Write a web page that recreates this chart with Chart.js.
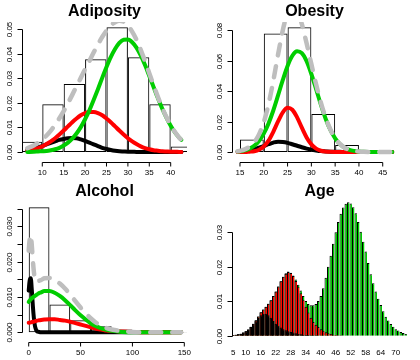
<!DOCTYPE html>
<html>
<head>
<meta charset="utf-8">
<title>Mixture fits</title>
<script src="https://cdn.jsdelivr.net/npm/chart.js@4.4.0/dist/chart.umd.min.js"></script>
<style>
    html, body { margin: 0; padding: 0; background: #fff; }
    #grid { position: relative; width: 420px; height: 360px; }
    #grid canvas { position: absolute; }
</style>
</head>
<body>
<div id="grid">
    <canvas id="adiposity" width="210" height="180" style="left:0;top:0"></canvas>
    <canvas id="obesity" width="210" height="180" style="left:210px;top:0"></canvas>
    <canvas id="alcohol" width="210" height="180" style="left:0;top:180px"></canvas>
    <canvas id="age" width="210" height="180" style="left:210px;top:180px"></canvas>
</div>
<script>
// Adiposity
const adipBins = [7.5, 12.5, 17.5, 22.5, 27.5, 32.5, 37.5, 42.5];
const adipDensity = [0.0042, 0.0194, 0.0276, 0.0377, 0.0507, 0.0385, 0.0194, 0.0022];
const adipX = [6.5, 8, 9, 10, 11, 12, 13, 14, 15, 16, 17, 18, 19, 20, 21, 22, 23, 24, 25, 26, 27, 28, 29, 30, 31, 32, 33, 34, 35, 36, 37, 38, 39, 40, 41, 42, 42.5];
const adipBlack = [0.0009, 0.0014, 0.0019, 0.0024, 0.0031, 0.0037, 0.0043, 0.0049, 0.0053, 0.0056, 0.0057, 0.0056, 0.0051, 0.0045, 0.0038, 0.0031, 0.0024, 0.0017, 0.0012, 0.0008, 0.0005, 0.0003, 0.0002, 0.0001, 0.0001, 0, 0, 0, 0, 0, 0, 0, 0, 0, 0, 0, 0];
const adipRed = [0.0006, 0.0011, 0.0016, 0.0023, 0.0032, 0.0043, 0.0056, 0.0071, 0.0087, 0.0104, 0.0121, 0.0136, 0.0149, 0.0158, 0.0162, 0.0162, 0.0158, 0.0149, 0.0136, 0.0121, 0.0104, 0.0087, 0.0071, 0.0056, 0.0043, 0.0032, 0.0023, 0.0016, 0.0011, 0.0007, 0.0005, 0.0003, 0.0002, 0.0001, 0.0001, 0, 0];
const adipGreen = [0, 0.0001, 0.0002, 0.0003, 0.0004, 0.0007, 0.0011, 0.0017, 0.0026, 0.0038, 0.0054, 0.0075, 0.0101, 0.0133, 0.0169, 0.0211, 0.0255, 0.0301, 0.0345, 0.0385, 0.0418, 0.0443, 0.0456, 0.0457, 0.0446, 0.0424, 0.0392, 0.0353, 0.0309, 0.0264, 0.0219, 0.0177, 0.0140, 0.0107, 0.0080, 0.0058, 0.0049];
const adipTotal = [0.0015, 0.0026, 0.0037, 0.0050, 0.0067, 0.0087, 0.0110, 0.0137, 0.0166, 0.0198, 0.0232, 0.0267, 0.0301, 0.0336, 0.0369, 0.0404, 0.0437, 0.0467, 0.0493, 0.0514, 0.0527, 0.0533, 0.0529, 0.0514, 0.0489, 0.0456, 0.0415, 0.0369, 0.0320, 0.0271, 0.0224, 0.0180, 0.0142, 0.0108, 0.0081, 0.0058, 0.0049];
const adipXTicks = [10, 15, 20, 25, 30, 35, 40];
const adipYTicks = [0, 0.01, 0.02, 0.03, 0.04, 0.05];
const adipYLabels = ['0.00', '0.01', '0.02', '0.03', '0.04', '0.05'];

// Obesity
const obesBins = [17.5, 22.5, 27.5, 32.5, 37.5, 42.5];
const obesDensity = [0.0083, 0.0780, 0.0820, 0.0250, 0.0046, 0.0004];
const obesX = [14.5, 15, 16, 17, 18, 19, 20, 21, 22, 23, 24, 25, 26, 27, 28, 29, 30, 31, 32, 33, 34, 35, 36, 37, 38, 39, 40, 41, 42, 43, 44, 45, 46, 47];
const obesBlack = [0.0002, 0.0003, 0.0006, 0.0011, 0.0018, 0.0028, 0.0039, 0.0051, 0.0062, 0.0068, 0.0066, 0.0060, 0.0051, 0.0041, 0.0031, 0.0022, 0.0015, 0.0010, 0.0006, 0.0004, 0.0002, 0.0001, 0.0001, 0, 0, 0, 0, 0, 0, 0, 0, 0, 0, 0];
const obesRed = [0, 0, 0, 0.0002, 0.0005, 0.0015, 0.0036, 0.0075, 0.0133, 0.0201, 0.0261, 0.0291, 0.0278, 0.0228, 0.0160, 0.0096, 0.0050, 0.0022, 0.0008, 0.0003, 0.0001, 0, 0, 0, 0, 0, 0, 0, 0, 0, 0, 0, 0, 0];
const obesGreen = [0.0003, 0.0005, 0.0011, 0.0022, 0.0041, 0.0073, 0.0121, 0.0188, 0.0273, 0.0372, 0.0474, 0.0566, 0.0633, 0.0663, 0.0650, 0.0597, 0.0513, 0.0413, 0.0311, 0.0219, 0.0145, 0.0090, 0.0052, 0.0028, 0.0014, 0.0007, 0.0003, 0.0001, 0, 0, 0, 0, 0, 0];
const obesTotal = [0.0005, 0.0008, 0.0017, 0.0035, 0.0064, 0.0116, 0.0196, 0.0314, 0.0468, 0.0641, 0.0801, 0.0917, 0.0962, 0.0932, 0.0841, 0.0715, 0.0578, 0.0445, 0.0325, 0.0226, 0.0148, 0.0091, 0.0053, 0.0028, 0.0014, 0.0007, 0.0003, 0.0001, 0, 0, 0, 0, 0, 0];
const obesXTicks = [15, 20, 25, 30, 35, 40, 45];
const obesYTicks = [0, 0.02, 0.04, 0.06, 0.08];
const obesYLabels = ['0.00', '0.02', '0.04', '0.06', '0.08'];

// Alcohol
const alcBins = [10, 30, 50, 70, 90, 110, 130, 150];
const alcDensity = [0.0354, 0.0079, 0.0034, 0.0017, 0.0008, 0.0003, 0.0001, 0.0001];
const alcX = [0, 1, 2, 3, 4, 5, 6, 7, 8, 10, 12, 15, 20, 25, 30, 35, 40, 45, 50, 55, 60, 65, 70, 75, 80, 90, 100, 110, 120, 130, 140, 147];
const alcBlack = [0.0118, 0.0148, 0.0153, 0.0120, 0.0075, 0.0040, 0.0018, 0.0008, 0.0003, 0.0001, 0, 0, 0, 0, 0, 0, 0, 0, 0, 0, 0, 0, 0, 0, 0, 0, 0, 0, 0, 0, 0, 0];
const alcRed = [0.0027, 0.0027, 0.0028, 0.0029, 0.0030, 0.0030, 0.0031, 0.0032, 0.0033, 0.0034, 0.0035, 0.0036, 0.0037, 0.0037, 0.0035, 0.0033, 0.0030, 0.0026, 0.0022, 0.0018, 0.0014, 0.0010, 0.0008, 0.0005, 0.0004, 0.0002, 0.0001, 0, 0, 0, 0, 0];
const alcGreen = [0.0086, 0.0090, 0.0094, 0.0096, 0.0099, 0.0101, 0.0103, 0.0105, 0.0107, 0.0111, 0.0113, 0.0117, 0.0117, 0.0112, 0.0103, 0.0091, 0.0077, 0.0062, 0.0048, 0.0036, 0.0025, 0.0017, 0.0011, 0.0007, 0.0004, 0.0001, 0, 0, 0, 0, 0, 0];
const alcTotal = [0.0231, 0.0265, 0.0275, 0.0245, 0.0204, 0.0171, 0.0152, 0.0145, 0.0143, 0.0146, 0.0148, 0.0153, 0.0154, 0.0149, 0.0138, 0.0124, 0.0107, 0.0088, 0.0070, 0.0054, 0.0039, 0.0027, 0.0019, 0.0012, 0.0008, 0.0003, 0.0001, 0, 0, 0, 0, 0];
const alcXTicks = [0, 50, 100, 150];
const alcYTicks = [0, 0.005, 0.01, 0.015, 0.02, 0.025, 0.03, 0.035];
const alcYLabels = ['0.000', '', '0.010', '', '0.020', '', '0.030', ''];

// Age (bar heights as they show: black in front, red behind it, green at the back)
const ages = [5, 6, 7, 8, 9, 10, 11, 12, 13, 14, 15, 16, 17, 18, 19, 20, 21, 22, 23, 24, 25, 26, 27, 28, 29, 30, 31, 32, 33, 34, 35, 36, 37, 38, 39, 40, 41, 42, 43, 44, 45, 46, 47, 48, 49, 50, 51, 52, 53, 54, 55, 56, 57, 58, 59, 60, 61, 62, 63, 64, 65, 66, 67, 68, 69, 70, 71, 72, 73, 74];
const ageBlack = [0.0002, 0.0003, 0.0004, 0.0006, 0.0009, 0.0013, 0.0018, 0.0025, 0.0033, 0.0042, 0.0051, 0.0059, 0.0064, 0.0064, 0.0059, 0.0052, 0.0043, 0.0035, 0.0029, 0.0024, 0.0019, 0.0016, 0.0013, 0.0011, 0.0009, 0.0007, 0.0005, 0.0004, 0.0003, 0.0002, 0.0002, 0.0001, 0.0001, 0.0001, 0, 0, 0, 0, 0, 0, 0, 0, 0, 0, 0, 0, 0, 0, 0, 0, 0, 0, 0, 0, 0, 0, 0, 0, 0, 0, 0, 0, 0, 0, 0, 0, 0, 0, 0, 0];
const ageRed = [0.0002, 0.0003, 0.0004, 0.0006, 0.0009, 0.0013, 0.0018, 0.0026, 0.0035, 0.0045, 0.0056, 0.0068, 0.0076, 0.0084, 0.0093, 0.0103, 0.0115, 0.0128, 0.0143, 0.0158, 0.0171, 0.0180, 0.0185, 0.0182, 0.0173, 0.0159, 0.0142, 0.0123, 0.0104, 0.0084, 0.0067, 0.0052, 0.0040, 0.0032, 0.0025, 0.0019, 0.0014, 0.0010, 0.0007, 0.0005, 0.0003, 0.0002, 0.0001, 0.0001, 0, 0, 0, 0, 0, 0, 0, 0, 0, 0, 0, 0, 0, 0, 0, 0, 0, 0, 0, 0, 0, 0, 0, 0, 0, 0];
const ageGreen = [0.0002, 0.0003, 0.0004, 0.0006, 0.0009, 0.0013, 0.0018, 0.0026, 0.0035, 0.0045, 0.0056, 0.0068, 0.0076, 0.0084, 0.0093, 0.0103, 0.0115, 0.0128, 0.0143, 0.0158, 0.0171, 0.0181, 0.0186, 0.0183, 0.0175, 0.0163, 0.0148, 0.0131, 0.0115, 0.0101, 0.0092, 0.0088, 0.0088, 0.0092, 0.0101, 0.0115, 0.0138, 0.0168, 0.0200, 0.0232, 0.0267, 0.0300, 0.0330, 0.0354, 0.0372, 0.0383, 0.0387, 0.0384, 0.0373, 0.0355, 0.0330, 0.0302, 0.0273, 0.0244, 0.0211, 0.0178, 0.0152, 0.0128, 0.0107, 0.0089, 0.0071, 0.0055, 0.0044, 0.0034, 0.0026, 0.0019, 0.0015, 0.0011, 0.0008, 0.0005];
const ageXTicks = [5, 10, 16, 22, 28, 34, 40, 46, 52, 58, 64, 70];
const ageYTicks = [0, 0.01, 0.02, 0.03];
const ageYLabels = ['0.00', '0.01', '0.02', '0.03'];

const FONT = '"Liberation Sans", Arial, Helvetica, sans-serif';
const GREEN = '#00CD00';
const RED = '#FF0000';
const GRAY = '#BEBEBE';

function pts(xs, ys) {
    return xs.map((x, i) => ({ x: x, y: ys[i] }));
}

function curve(xs, ys, color, order, dashed) {
    return {
        type: 'line',
        data: pts(xs, ys),
        borderColor: color,
        borderWidth: dashed ? 4.5 : 4,
        borderDash: dashed ? [11, 11] : [],
        borderCapStyle: 'round',
        borderJoinStyle: 'round',
        pointRadius: 0,
        fill: false,
        cubicInterpolationMode: 'monotone',
        clip: 0,
        order: order
    };
}

function histogram(centers, dens) {
    return {
        type: 'bar',
        data: pts(centers, dens),
        backgroundColor: 'rgba(0,0,0,0)',
        borderColor: '#000',
        borderWidth: 1,
        borderSkipped: false,
        inflateAmount: 0,
        barPercentage: 1,
        categoryPercentage: 1,
        clip: 0,
        order: 4
    };
}

// R style axes: line only from first to last tick, rotated y labels
function rAxes(cfg) {
    return {
        id: 'rAxes',
        afterDraw(chart) {
            const ctx = chart.ctx;
            const area = chart.chartArea;
            const xs = chart.scales.x;
            const ys = chart.scales.y;
            const left = Math.round(area.left) + 0.5;
            const bottom = Math.round(area.bottom) + 0.5;
            ctx.save();
            ctx.strokeStyle = '#000';
            ctx.fillStyle = '#000';
            ctx.lineWidth = 1;
            ctx.font = '8px ' + FONT;

            const yPix = cfg.yTicks.map(v => Math.round(ys.getPixelForValue(v)) + 0.5);
            ctx.beginPath();
            ctx.moveTo(left, yPix[0]);
            ctx.lineTo(left, yPix[yPix.length - 1]);
            yPix.forEach(p => { ctx.moveTo(left, p); ctx.lineTo(left - 5, p); });
            ctx.stroke();

            ctx.textAlign = 'center';
            ctx.textBaseline = 'middle';
            yPix.forEach((p, i) => {
                if (!cfg.yLabels[i]) return;
                ctx.save();
                ctx.translate(area.left - 12, p);
                ctx.rotate(-Math.PI / 2);
                ctx.fillText(cfg.yLabels[i], 0, 0);
                ctx.restore();
            });

            const xPix = cfg.xPos.map(v => xs.getPixelForValue(v));
            if (cfg.xLine) {
                ctx.beginPath();
                ctx.moveTo(xPix[0], bottom);
                ctx.lineTo(xPix[xPix.length - 1], bottom);
                xPix.forEach(p => { ctx.moveTo(p, bottom); ctx.lineTo(p, bottom + 4); });
                ctx.stroke();
            }
            xPix.forEach((p, i) => ctx.fillText(String(cfg.xLabels[i]), p, area.bottom + 11));
            ctx.restore();
        }
    };
}

function titleOpts(text) {
    return {
        display: true,
        text: text,
        color: '#000',
        font: { family: FONT, size: 16, weight: 'bold' },
        padding: { top: 2, bottom: 0.8 }
    };
}

function densityPanel(id, title, datasets, xRange, yRange, axes) {
    return new Chart(document.getElementById(id), {
        type: 'line',
        data: { datasets: datasets },
        options: {
            responsive: false,
            animation: false,
            devicePixelRatio: 1,
            events: [],
            layout: { padding: { left: 22, right: 23, top: 0, bottom: 18 } },
            scales: {
                x: {
                    type: 'linear', display: false, offset: false,
                    min: xRange[0], max: xRange[1],
                    afterBuildTicks: s => { s.ticks = axes.xPos.map(v => ({ value: v })); }
                },
                y: { type: 'linear', display: false, min: yRange[0], max: yRange[1] }
            },
            plugins: {
                legend: { display: false },
                tooltip: { enabled: false },
                title: titleOpts(title)
            }
        },
        plugins: [rAxes(axes)]
    });
}

densityPanel('adiposity', 'Adiposity', [
    curve(adipX, adipTotal, GRAY, 0, true),
    curve(adipX, adipGreen, GREEN, 1),
    curve(adipX, adipRed, RED, 2),
    curve(adipX, adipBlack, '#000', 3),
    histogram(adipBins, adipDensity)
], [5.26, 43.81], [-0.00407, 0.0528], {
    xPos: adipXTicks, xLabels: adipXTicks, xLine: true, yTicks: adipYTicks, yLabels: adipYLabels
});

densityPanel('obesity', 'Obesity', [
    curve(obesX, obesTotal, GRAY, 0, true),
    curve(obesX, obesGreen, GREEN, 1),
    curve(obesX, obesRed, RED, 2),
    curve(obesX, obesBlack, '#000', 3),
    histogram(obesBins, obesDensity)
], [13.32, 48.0], [-0.00658, 0.0855], {
    xPos: obesXTicks, xLabels: obesXTicks, xLine: true, yTicks: obesYTicks, yLabels: obesYLabels
});

densityPanel('alcohol', 'Alcohol', [
    curve(alcX, alcTotal, GRAY, 0, true),
    curve(alcX, alcGreen, GREEN, 1),
    curve(alcX, alcRed, RED, 2),
    curve(alcX, alcBlack, '#000', 3),
    histogram(alcBins, alcDensity)
], [-6.46, 152.6], [-0.00275, 0.0369], {
    xPos: alcXTicks, xLabels: alcXTicks, xLine: true, yTicks: alcYTicks, yLabels: alcYLabels
});

function ageBars(values, color, order) {
    return {
        data: values,
        backgroundColor: color,
        borderColor: '#000',
        borderWidth: { left: 1, top: 1, right: 0, bottom: 0 },
        inflateAmount: 0,
        grouped: false,
        barPercentage: 1,
        categoryPercentage: 1,
        order: order
    };
}

new Chart(document.getElementById('age'), {
    type: 'bar',
    data: {
        labels: ages,
        datasets: [
            ageBars(ageBlack, '#000', 0),
            ageBars(ageRed, RED, 1),
            ageBars(ageGreen, GREEN, 2)
        ]
    },
    options: {
        responsive: false,
        animation: false,
        devicePixelRatio: 1,
        events: [],
        layout: { padding: { left: 22, right: 13, top: 0, bottom: 18 } },
        scales: {
            x: { display: false, offset: true },
            y: { display: false, min: -0.00183, max: 0.0388 }
        },
        plugins: {
            legend: { display: false },
            tooltip: { enabled: false },
            title: titleOpts('Age')
        }
    },
    plugins: [rAxes({
        xPos: ageXTicks.map(a => ages.indexOf(a)),
        xLabels: ageXTicks,
        xLine: false,
        yTicks: ageYTicks,
        yLabels: ageYLabels
    })]
});
</script>
</body>
</html>
